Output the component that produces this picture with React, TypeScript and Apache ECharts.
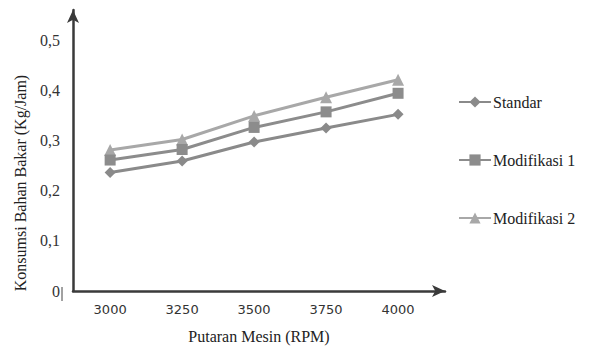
import React, { useEffect, useRef } from "react";
import * as echarts from "echarts";

const rpm = [3000, 3250, 3500, 3750, 4000];
const standar = [0.236, 0.259, 0.297, 0.325, 0.352];
const modifikasi1 = [0.261, 0.282, 0.326, 0.357, 0.394];
const modifikasi2 = [0.281, 0.302, 0.349, 0.386, 0.421];
const yTicks = [0, 0.1, 0.2, 0.3, 0.4, 0.5];

const serif = "serif";

export default function App() {
  const ref = useRef<HTMLDivElement>(null);
  useEffect(() => {
    if (!ref.current) return;
    const chart = echarts.init(ref.current, null, { renderer: "svg" });
    const pair = (ys: number[]) => rpm.map((x, i) => [x, ys[i]]);
    const mk = (name: string, ys: number[], symbol: string, size: number, color: string) => ({
      name,
      type: "line",
      data: pair(ys),
      symbol,
      symbolSize: size,
      lineStyle: { color, width: 3 },
      itemStyle: { color },
    });
    chart.setOption({
      animation: false,
      backgroundColor: "#ffffff",
      textStyle: { fontFamily: serif },
      grid: { left: 73, right: 145, top: 10, bottom: 54 },
      xAxis: {
        type: "value",
        min: 2871,
        max: 4163,
        axisLine: {
          show: true,
          onZero: false,
          symbol: ["none", "arrow"],
          symbolSize: [9, 13],
          lineStyle: { color: "#3a3a3a", width: 2.5 },
        },
        axisTick: { show: false },
        splitLine: { show: false },
        axisLabel: {
          customValues: rpm,
          color: "#333",
          fontFamily: "DejaVu Sans",
          fontSize: 13,
          margin: 12,
          formatter: (v: number) => String(v),
        },
        name: "Putaran Mesin (RPM)",
        nameLocation: "middle",
        nameGap: 37,
        nameTextStyle: { fontFamily: serif, fontSize: 16, color: "#222" },
      },
      yAxis: {
        type: "value",
        min: 0,
        max: 0.56,
        axisLine: {
          show: true,
          symbol: ["none", "arrow"],
          symbolSize: [9, 13],
          lineStyle: { color: "#3a3a3a", width: 2.5 },
        },
        axisTick: { show: false },
        splitLine: { show: false },
        axisLabel: {
          customValues: yTicks,
          color: "#333",
          fontFamily: serif,
          fontSize: 16,
          margin: 13,
          formatter: (v: number) => (v === 0 ? "0" : v.toFixed(1).replace(".", ",")),
        },
      },
      legend: {
        orient: "vertical",
        left: 453,
        top: 89,
        itemWidth: 32,
        itemHeight: 14,
        itemGap: 42,
        textStyle: { fontFamily: serif, fontSize: 16, color: "#222", padding: [0, 0, 0, -3] },
        data: ["Standar", "Modifikasi 1", "Modifikasi 2"],
      },
      graphic: [
        {
          type: "text",
          x: 20,
          y: 183,
          rotation: Math.PI / 2,
          style: {
            text: "Konsumsi Bahan Bakar (Kg/Jam)",
            fontFamily: serif,
            fontSize: 16,
            fill: "#222",
            align: "center",
            verticalAlign: "middle",
          },
        },
        {
          type: "line",
          shape: { x1: 62, y1: 287, x2: 62, y2: 301 },
          style: { stroke: "#444", lineWidth: 1 },
        },
      ],
      series: [
        mk("Modifikasi 2", modifikasi2, "triangle", 12, "#a8a8a8"),
        mk("Modifikasi 1", modifikasi1, "rect", 11, "#8c8c8c"),
        mk("Standar", standar, "diamond", 11, "#8a8a8a"),
      ],
    });
    return () => chart.dispose();
  }, []);
  return <div ref={ref} style={{ width: 590, height: 349, position: "absolute", left: 0, top: 0 }} />;
}
